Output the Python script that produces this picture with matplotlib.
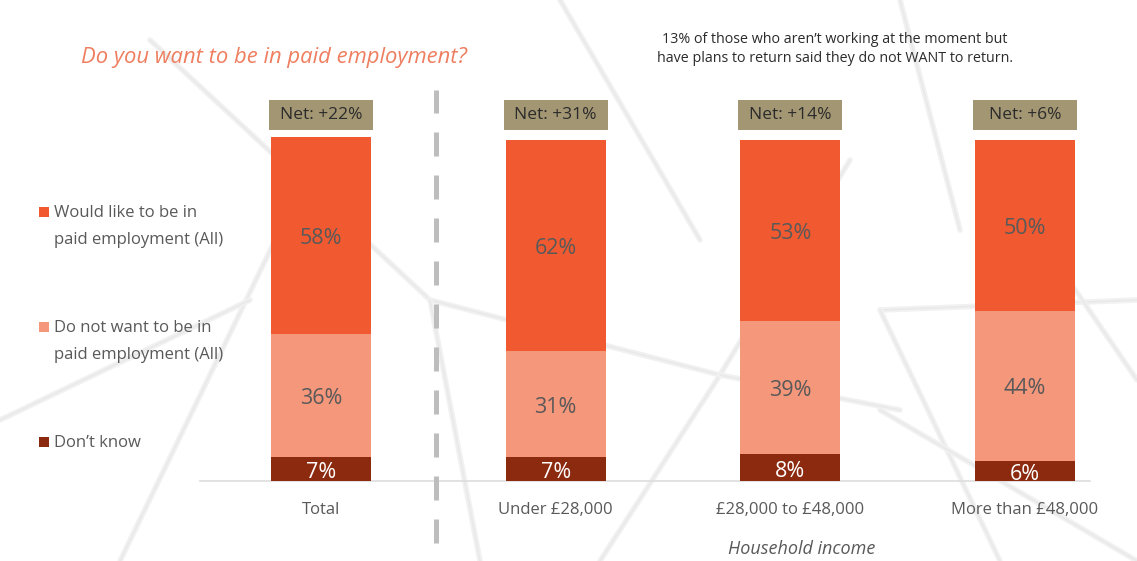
import matplotlib.pyplot as plt
from matplotlib.patches import Rectangle

plt.rcParams['font.family'] = ['Open Sans', 'DejaVu Sans']

# ------------------------------------------------------------------
# Datos
# ------------------------------------------------------------------
categorias = ["Total", "Under £28,000", "£28,000 to £48,000", "More than £48,000"]
quiere     = [58, 62, 53, 50]
no_quiere  = [36, 31, 39, 44]
no_sabe    = [7, 7, 8, 6]
netos      = ["+22%", "+31%", "+14%", "+6%"]

series_leyenda = [["Would like to be in", "paid employment (All)"],
                  ["Do not want to be in", "paid employment (All)"],
                  ["Don\u2019t know"]]

C_QUIERE = '#F15A30'
C_NO     = '#F5977B'
C_NS     = '#8C2A10'
C_NETO   = '#A39673'
C_TEXTO  = '#595959'

W, H = 1137, 561
fig = plt.figure(figsize=(W / 100, H / 100), dpi=100)
fig.patch.set_facecolor('white')

# fondo: trama tenue de líneas en coordenadas de píxel
fondo = fig.add_axes([0, 0, 1, 1], zorder=-1)
fondo.set_xlim(0, W)
fondo.set_ylim(H, 0)
fondo.axis('off')
trama = [
    [(150, 40), (430, 300)], [(430, 300), (720, 375)], [(720, 375), (850, 160)],
    [(720, 375), (600, 561)], [(720, 375), (900, 410)], [(880, 310), (1137, 300)],
    [(880, 310), (1000, 561)], [(880, 410), (1137, 561)], [(280, 230), (120, 561)],
    [(900, 0), (960, 230)], [(430, 300), (480, 561)], [(560, 0), (700, 240)],
    [(1000, 180), (1137, 380)], [(0, 420), (250, 300)],
]
for (xa, ya), (xb, yb) in trama:
    fondo.plot([xa, xb], [ya, yb], color='#f1f1f1', lw=4,
               solid_capstyle='round')
    fondo.plot([xa, xb], [ya, yb], color='#e9e9e9', lw=1.2,
               solid_capstyle='round')

# eje: base en y=481 px, 100% en y~140 px
px_pct = 3.41
y_top_px = 90
ax = fig.add_axes([200 / W, (H - 481) / H, 890 / W, (481 - y_top_px) / H])
ax.set_xlim(-0.5156, 3.277)
ax.set_ylim(0, (481 - y_top_px) / px_pct)
ax.axis('off')

x = range(len(categorias))
ancho = 0.426

ax.bar(x, no_sabe, width=ancho, color=C_NS, zorder=3)
ax.bar(x, no_quiere, width=ancho, bottom=no_sabe, color=C_NO, zorder=3)
base2 = [a + b for a, b in zip(no_sabe, no_quiere)]
ax.bar(x, quiere, width=ancho, bottom=base2, color=C_QUIERE, zorder=3)

# etiquetas dentro de las barras
for i in x:
    ax.text(i, no_sabe[i] / 2 - 1.1, f"{no_sabe[i]}%", ha='center', va='center',
            color='white', fontsize=15.5, zorder=4)
    ax.text(i, no_sabe[i] + no_quiere[i] / 2 - 0.9, f"{no_quiere[i]}%",
            ha='center', va='center', color=C_TEXTO, fontsize=15.5, zorder=4)
    ax.text(i, base2[i] + quiere[i] / 2 - 0.9, f"{quiere[i]}%", ha='center',
            va='center', color=C_TEXTO, fontsize=15.5, zorder=4)

# cajas de "Net"
y0_neto = (481 - 130) / px_pct
h_neto = 30 / px_pct
w_neto = 104 / 234.7
for i in x:
    ax.add_patch(Rectangle((i - w_neto / 2, y0_neto), w_neto, h_neto,
                           facecolor=C_NETO, edgecolor='none', zorder=3))
    ax.text(i, y0_neto + h_neto / 2, f"Net: {netos[i]}", ha='center',
            va='center', color='#2b2b2b', fontsize=12.5, zorder=4)

# línea base y separador
ax.plot([-0.5156, 3.277], [0, 0], color='#dddddd', lw=1.2, zorder=2,
        clip_on=False)
ax.plot([0.49, 0.49], [-62 / px_pct, (481 - y_top_px) / px_pct],
        color='#bdbdbd', lw=3.6, ls=(0, (4.8, 3.8)), zorder=2, clip_on=False)

# etiquetas de categoría
for i in x:
    ax.text(i, -29 / px_pct, categorias[i], ha='center', va='center',
            color=C_TEXTO, fontsize=12, clip_on=False)
ax.text(2.05, -68 / px_pct, "Household income", ha='center', va='center',
        color=C_TEXTO, fontsize=13, style='italic', clip_on=False)

# título y nota
fig.text(81 / W, 1 - 57 / H, "Do you want to be in paid employment?",
         ha='left', va='center', color='#EE7E5F', fontsize=15.8, style='italic')
fig.text(835 / W, 1 - 49 / H,
         "13% of those who aren\u2019t working at the moment but\n"
         "have plans to return said they do not WANT to return.",
         ha='center', va='center', color='#2b2b2b', fontsize=10.3,
         linespacing=1.4)

# leyenda manual
colores = [C_QUIERE, C_NO, C_NS]
y_ley = [212, 327, 442]
for c, yy, lineas in zip(colores, y_ley, series_leyenda):
    fig.patches.append(Rectangle((39 / W, 1 - (yy + 5) / H), 10 / W, 10 / H,
                                 transform=fig.transFigure, facecolor=c,
                                 edgecolor='none'))
    for k, linea in enumerate(lineas):
        fig.text(54 / W, 1 - (yy + 1 + 27 * k) / H, linea, ha='left',
                 va='center', color=C_TEXTO, fontsize=12)

fig.savefig("out.png", dpi=100, facecolor='white')
